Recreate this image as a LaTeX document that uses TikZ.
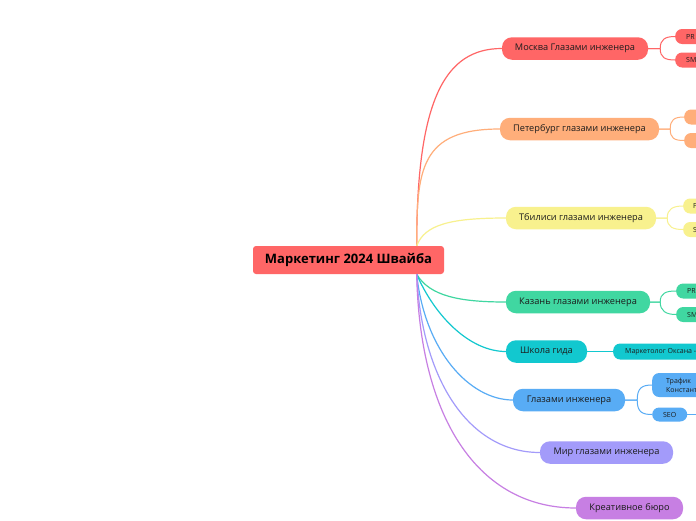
\documentclass[tikz,border=0pt]{standalone}
\usepackage{fontspec}
\setmainfont{Open Sans}
\usetikzlibrary{calc}
\definecolor{cred}{HTML}{FF6666}
\definecolor{corange}{HTML}{FFAE7A}
\definecolor{cyellow}{HTML}{F8F18E}
\definecolor{cgreen}{HTML}{40D7A1}
\definecolor{ccyan}{HTML}{12C8CF}
\definecolor{cblue}{HTML}{58ACF5}
\definecolor{clav}{HTML}{A39BFA}
\definecolor{cpurple}{HTML}{C77FE3}
\definecolor{txt}{HTML}{1C1C1C}
\tikzset{
  rootbox/.style={fill=cred, rounded corners=3pt, minimum width=191pt, minimum height=28pt, inner sep=0pt, font=\fontsize{13}{15}\selectfont\bfseries, text=black},
  branch/.style={rounded corners=10pt, minimum height=22.5pt, inner sep=0pt, font=\fontsize{9.2}{11}\selectfont, text=txt},
  subbox/.style={rounded corners=7pt, anchor=west, minimum height=15pt, inner ysep=0pt, font=\fontsize{7}{8.5}\selectfont, text=txt},
  conn/.style={line width=1.2pt},
  subc/.style={line width=1pt}
}
\begin{document}
\begin{tikzpicture}[x=1pt,y=-1pt]
\useasboundingbox[fill=white] (0,0) rectangle (696,520);
% root
\node[rootbox] (root) at (348.5,260) {Маркетинг 2024 Швайба};
\coordinate (rt) at ([xshift=-27.5pt]root.north east);
\coordinate (rb) at ([xshift=-27.5pt]root.south east);
% branches
\node[branch, fill=cred, minimum width=146pt] (mos) at (575,48.5) {Москва Глазами инженера};
\node[branch, fill=corange, minimum width=159pt] (spb) at (579.5,129) {Петербург глазами инженера};
\node[branch, fill=cyellow, minimum width=150pt] (tbi) at (581,218) {Тбилиси глазами инженера};
\node[branch, fill=cgreen, minimum width=144pt] (kaz) at (578,302) {Казань глазами инженера};
\node[branch, fill=ccyan, minimum width=81pt] (shk) at (546.5,351.5) {Школа гида};
\node[branch, fill=cblue, minimum width=112pt] (gla) at (569,400) {Глазами инженера};
\node[branch, fill=clav, minimum width=133pt] (mir) at (606.5,452.5) {Мир глазами инженера};
\node[branch, fill=cpurple, minimum width=107pt] (kre) at (629.5,508) {Креативное бюро};
% root connectors
\draw[conn, cred] (rt) .. controls +(0,-146) and +(-57,0) .. (mos.west);
\draw[conn, corange] (rt) .. controls +(0,-76) and +(-80,0) .. (spb.west);
\draw[conn, cyellow] (rt) .. controls +(8,-21) and +(-56,0) .. (tbi.west);
\draw[conn, cgreen] (rb) .. controls +(13,22) and +(-46,0) .. (kaz.west);
\draw[conn, ccyan] (rb) .. controls +(18,42) and +(-36,0) .. (shk.west);
\draw[conn, cblue] (rb) .. controls +(8,77) and +(-43,0) .. (gla.west);
\draw[conn, clav] (rb) .. controls +(5,107) and +(-70,0) .. (mir.west);
\draw[conn, cpurple] (rb) .. controls +(3,147) and +(-96,0) .. (kre.west);
% Moscow subs
\node[subbox, fill=cred, inner xsep=11pt] (mpr) at (675,36.5) {PR};
\node[subbox, fill=cred, inner xsep=11pt] (msmm) at (675,60) {SMM};
\draw[subc, cred] (mos.east) -- ++(12,0) .. controls +(0,-9) and +(-10,0) .. (mpr.west);
\draw[subc, cred] (mos.east) -- ++(12,0) .. controls +(0,9) and +(-10,0) .. (msmm.west);
% Petersburg subs
\node[subbox, fill=corange, minimum width=30pt] (ppr) at (684,117) {};
\node[subbox, fill=corange, minimum width=30pt] (psmm) at (684,140.5) {};
\draw[subc, corange] (spb.east) -- ++(11,0) .. controls +(0,-9) and +(-10,0) .. (ppr.west);
\draw[subc, corange] (spb.east) -- ++(11,0) .. controls +(0,9) and +(-10,0) .. (psmm.west);
% Tbilisi subs
\node[subbox, fill=cyellow, inner xsep=10pt] (tpr) at (683,206) {PR};
\node[subbox, fill=cyellow, inner xsep=10pt] (tsmm) at (683,229.5) {SMM};
\draw[subc, cyellow] (tbi.east) -- ++(11,0) .. controls +(0,-9) and +(-10,0) .. (tpr.west);
\draw[subc, cyellow] (tbi.east) -- ++(11,0) .. controls +(0,9) and +(-10,0) .. (tsmm.west);
% Kazan subs
\node[subbox, fill=cgreen, inner xsep=11pt] (kpr) at (676,291) {PR};
\node[subbox, fill=cgreen, inner xsep=11pt] (ksmm) at (676,314.5) {SMM};
\draw[subc, cgreen] (kaz.east) -- ++(10,0) .. controls +(0,-9) and +(-10,0) .. (kpr.west);
\draw[subc, cgreen] (kaz.east) -- ++(10,0) .. controls +(0,9) and +(-10,0) .. (ksmm.west);
% School sub
\node[subbox, fill=ccyan, inner xsep=12pt, minimum height=16pt] (oks) at (613,351.5) {Маркетолог Оксана -};
\draw[subc, ccyan] (shk.east) -- (oks.west);
% Glazami subs
\node[subbox, fill=cblue, inner xsep=14pt, minimum height=24pt, align=left, font=\fontsize{7}{9}\selectfont] (traf) at (652,385) {Трафик\\Константин};
\node[subbox, fill=cblue, minimum width=35pt, minimum height=14pt, inner xsep=0pt] (seo) at (652,414.5) {SEO};
\coordinate (seoend) at (702,414.5);
\draw[subc, cblue] (gla.east) -- ++(12,0) .. controls +(0,-12) and +(-10,0) .. (traf.west);
\draw[subc, cblue] (gla.east) -- ++(12,0) .. controls +(0,12) and +(-10,0) .. (seo.west);
\draw[subc, cblue] (seo.east) -- (seoend);
\end{tikzpicture}
\end{document}
